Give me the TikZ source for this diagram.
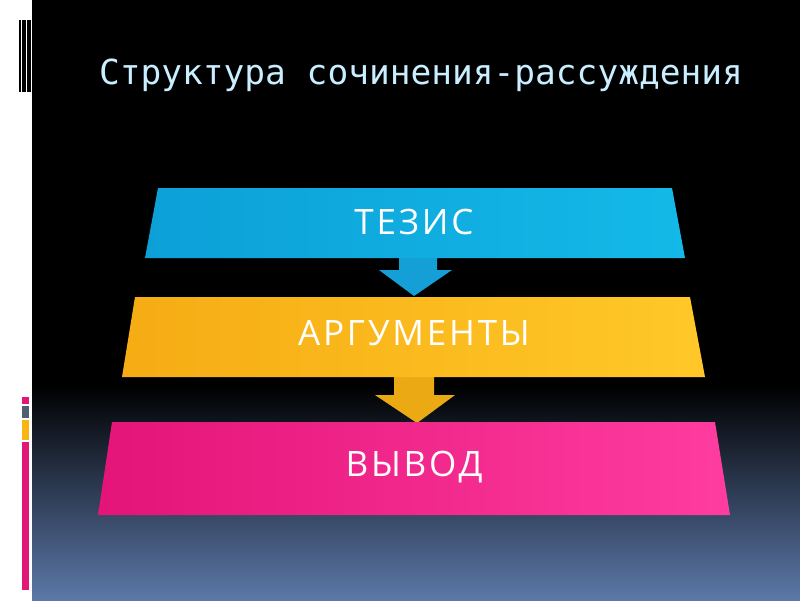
\documentclass[tikz,border=0pt]{standalone}
\usepackage{fontspec}
\setmainfont{Open Sans}
\newfontfamily\boxfont[LetterSpace=8]{Open Sans}
\newfontfamily\titlefont{DejaVu Sans Mono}
\definecolor{pinkA}{RGB}{226,24,120}
\definecolor{grayA}{RGB}{80,96,112}
\definecolor{orangeA}{RGB}{250,180,20}
\definecolor{bgblue}{RGB}{92,120,168}
\definecolor{titlec}{RGB}{200,238,255}
\definecolor{cyanarr}{RGB}{20,160,215}
\definecolor{orarr}{RGB}{235,170,20}
\definecolor{cyL}{RGB}{12,160,215}
\definecolor{cyR}{RGB}{20,185,232}
\definecolor{orL}{RGB}{246,172,20}
\definecolor{orR}{RGB}{255,200,40}
\definecolor{piL}{RGB}{228,20,120}
\definecolor{piR}{RGB}{255,60,160}
\begin{document}
\begin{tikzpicture}[x=1pt,y=-1pt,
  boxtext/.style={text=white,font=\boxfont\fontsize{35}{36}\selectfont}]
\useasboundingbox (0,0) rectangle (800,600);
\fill[white] (0,0) rectangle (32,600);
\fill[black] (32,0) rectangle (800,385);
\shade[top color=black,bottom color=bgblue] (32,385) rectangle (800,600);
% left decorations
\fill[black] (19,20) rectangle (21,92);
\fill[black] (22,20) rectangle (26,92);
\fill[black] (27,20) rectangle (31,92);
\fill[pinkA] (22,397) rectangle (29,404);
\fill[grayA] (22,406) rectangle (29,418);
\fill[orangeA] (22,420) rectangle (29,440);
\fill[pinkA] (22,442) rectangle (29,590);
\node[text=titlec,font=\titlefont\fontsize{34.5}{36}\selectfont] (title) at (421,75) {Структура сочинения-рассуждения};
% arrows
\fill[cyanarr] (399,250) -- (437,250) -- (437,270) -- (452,270) -- (414,296) -- (379,270) -- (399,270) -- cycle;
\fill[orarr] (394,370) -- (434,370) -- (434,395) -- (455,395) -- (417,423) -- (375,395) -- (394,395) -- cycle;
% boxes
\shade[left color=cyL,right color=cyR] (158,188) -- (672,188) -- (685,258) -- (145,258) -- cycle;
\node[boxtext] (tezis) at (414,222) {ТЕЗИС};
\shade[left color=orL,right color=orR] (135,297) -- (690,297) -- (705,377) -- (122,377) -- cycle;
\node[boxtext] (arg) at (414,333) {АРГУМЕНТЫ};
\shade[left color=piL,right color=piR] (112,422) -- (715,422) -- (730,515) -- (98,515) -- cycle;
\node[boxtext] (vyvod) at (414,467) {ВЫВОД};
\end{tikzpicture}
\end{document}
